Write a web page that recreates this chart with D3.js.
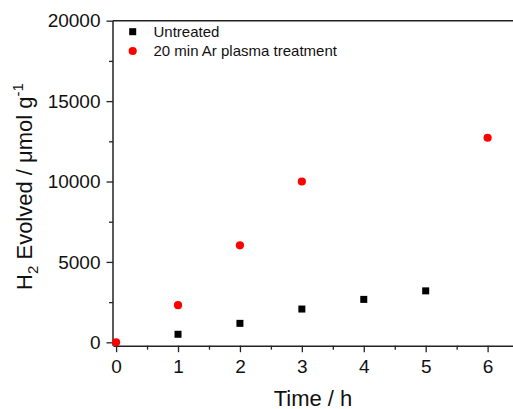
<!DOCTYPE html>
<html><head><meta charset="utf-8">
<script src="https://cdn.jsdelivr.net/npm/d3@7"></script>
<style>
html,body{margin:0;padding:0;background:#fff;}
svg{display:block;}
text{font-family:"Liberation Sans",Arial,sans-serif;fill:#111;}
</style></head>
<body>
<svg id="c" width="513" height="409"></svg>
<script>
const timeUntreated = [1, 2, 3, 4, 5];
const untreated = [500, 1180, 2070, 2670, 3200];
const timePlasma = [0, 1, 2, 3, 6];
const plasma = [0, 2310, 6030, 10000, 12720];
const xTicks = [0, 1, 2, 3, 4, 5, 6];
const xMinorTicks = [0.5, 1.5, 2.5, 3.5, 4.5, 5.5];
const yTicks = [0, 5000, 10000, 15000, 20000];
const yMinorTicks = [2500, 7500, 12500, 17500];
const seriesNames = ["Untreated", "20 min Ar plasma treatment"];

const svg = d3.select("#c");
const L = 113, R = 513, T = 20.7, B = 345.7;
const x = d3.scaleLinear().domain([-0.05, 6.41]).range([L, R]);
const y = d3.scaleLinear().domain([-210, 20000]).range([B, T]);

// top frame line
svg.append("line").attr("x1", L).attr("x2", R).attr("y1", T).attr("y2", T)
  .attr("stroke", "#222").attr("stroke-width", 1.5);

function styleAxis(g, fs) {
  g.select(".domain").attr("stroke", "#222").attr("stroke-width", 1.5);
  g.selectAll(".tick line").attr("stroke", "#222").attr("stroke-width", 1.3);
  g.selectAll(".tick text").style("font-family", "'Liberation Sans',Arial,sans-serif")
    .style("font-size", fs + "px").attr("fill", "#111");
}

// x axis
const gx = svg.append("g").attr("transform", `translate(0,${B})`)
  .call(d3.axisBottom(x).tickValues(xTicks).tickFormat(d3.format("d"))
    .tickSize(6.5).tickSizeOuter(0).tickPadding(7));
styleAxis(gx, 19);
const gxm = svg.append("g").attr("transform", `translate(0,${B})`)
  .call(d3.axisBottom(x).tickValues(xMinorTicks).tickFormat("").tickSize(4).tickSizeOuter(0));
styleAxis(gxm, 19);
gxm.select(".domain").remove();

// y axis
const gy = svg.append("g").attr("transform", `translate(${L},0)`)
  .call(d3.axisLeft(y).tickValues(yTicks).tickFormat(d3.format("d"))
    .tickSize(6.5).tickSizeOuter(0).tickPadding(6));
styleAxis(gy, 19);
const gym = svg.append("g").attr("transform", `translate(${L},0)`)
  .call(d3.axisLeft(y).tickValues(yMinorTicks).tickFormat("").tickSize(4).tickSizeOuter(0));
styleAxis(gym, 19);
gym.select(".domain").remove();
gy.select(".domain").attr("d", `M0,${B}V${T}`);

// axis titles
svg.append("text").attr("x", (L + R) / 2).attr("y", 405.5).attr("text-anchor", "middle")
  .style("font-size", "22px").text("Time / h");

const yt = svg.append("text").attr("transform", "translate(32,186.5) rotate(-90)")
  .attr("text-anchor", "middle").style("font-size", "22px");
yt.append("tspan").text("H");
yt.append("tspan").attr("dy", 6).style("font-size", "15px").text("2");
yt.append("tspan").attr("dy", -6).text(" Evolved / \u03bcmol g");
yt.append("tspan").attr("dy", -9).style("font-size", "15px").text("-1");

// data
const sq = 7;
svg.append("g").selectAll("rect").data(d3.zip(timeUntreated, untreated)).join("rect")
  .attr("x", d => x(d[0]) - sq / 2).attr("y", d => y(d[1]) - sq / 2)
  .attr("width", sq).attr("height", sq).attr("fill", "#000");
svg.append("g").selectAll("circle").data(d3.zip(timePlasma, plasma)).join("circle")
  .attr("cx", d => x(d[0])).attr("cy", d => y(d[1])).attr("r", 4.1).attr("fill", "#ff0000");

// legend
const lg = svg.append("g");
lg.append("rect").attr("x", 132.7 - 3.5).attr("y", 31.7 - 3.5).attr("width", 7).attr("height", 7).attr("fill", "#000");
lg.append("circle").attr("cx", 132.7).attr("cy", 51).attr("r", 4.1).attr("fill", "#ff0000");
lg.append("text").attr("x", 153.5).attr("y", 36.8).style("font-size", "15px").text(seriesNames[0]);
lg.append("text").attr("x", 153.5).attr("y", 56).style("font-size", "15px").text(seriesNames[1]);
</script>
</body></html>
